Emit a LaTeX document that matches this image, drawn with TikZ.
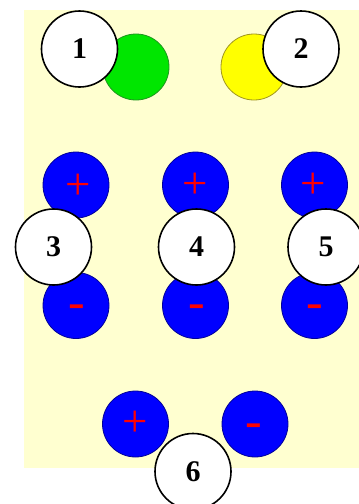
\documentclass[tikz,border=0pt]{standalone}
\usepackage{fontspec}
\setmainfont{Liberation Serif}
\begin{document}
\begin{tikzpicture}[x=1pt,y=-1pt,
  ball/.style={circle,minimum size=66pt,inner sep=0pt,line width=0.8pt},
  charge/.style={ball,fill=blue,draw=blue!60!black},
  plussign/.style={inner sep=0pt,text=red,font=\fontsize{45}{45}\selectfont},
  minussign/.style={inner sep=0pt,text=red,font=\fontsize{50}{50}\selectfont,yshift=-6.5pt},
  tag/.style={circle,minimum size=76pt,inner sep=0pt,fill=white,draw=black,line width=1.6pt,font=\fontsize{30}{30}\selectfont\bfseries}]
\useasboundingbox (0,0) rectangle (359,504);
\fill[fill={rgb,255:red,255;green,255;blue,208}] (24,10) rectangle (359,468);
% top balls
\node[ball,fill={rgb,255:red,0;green,230;blue,0},draw={rgb,255:red,30;green,150;blue,30}] (g) at (136,67) {};
\node[ball,fill={rgb,255:red,255;green,255;blue,0},draw={rgb,255:red,160;green,150;blue,30}] (y) at (254,67) {};
% charges
\node[charge] (p1) at (76,185) {};
\node[charge] (p2) at (195.5,185) {};
\node[charge] (p3) at (314.5,185) {};
\node[charge] (m1) at (76,305.5) {};
\node[charge] (m2) at (195.5,305.5) {};
\node[charge] (m3) at (314.5,305.5) {};
\node[charge] (p4) at (135.5,424) {};
\node[charge] (m4) at (255,424) {};
\node[plussign,xshift=2pt,yshift=-1.5pt] (sp1) at (p1) {+};
\node[plussign,yshift=-1pt] (sp2) at (p2) {+};
\node[plussign,xshift=-1pt,yshift=-1pt] (sp3) at (p3) {+};
\node[plussign] (sp4) at (p4) {+};
\node[minussign,xshift=1pt] (sm1) at (m1) {-};
\node[minussign,xshift=1.5pt] (sm2) at (m2) {-};
\node[minussign] (sm3) at (m3) {-};
\node[minussign,xshift=-1pt] (sm4) at (m4) {-};
% tags
\node[tag] (t1) at (79.5,49) {1};
\node[tag] (t2) at (301,49) {2};
\node[tag] (t3) at (53.5,247) {3};
\node[tag] (t4) at (196.5,247) {4};
\node[tag] (t5) at (326,247) {5};
\node[tag] (t6) at (193,471.5) {6};
\end{tikzpicture}
\end{document}
